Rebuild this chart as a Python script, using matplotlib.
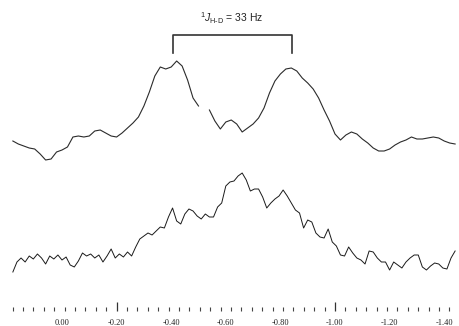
import numpy as np
import matplotlib
matplotlib.use('Agg')
import matplotlib.pyplot as plt

# chemical shift grid (ppm) starts at the left edge of the plotted window
top_start, top_step = 0.18, 0.02
bot_start, bot_step = 0.18, 0.015

# upper trace (arbitrary intensity), nan = break in the trace
top_vals = [168, 165, 163, 161, 160, 155, 149, 150, 157, 159,
            162, 172, 173, 172, 173, 178, 179, 176, 173, 172,
            176, 181, 186, 192, 203, 217, 233, 242, 240, 242,
            248, 243, 229, 211, 203, np.nan, 199, 188, 180, 187,
            189, 185, 177, 181, 185, 191, 201, 216, 228, 235,
            240, 241, 238, 231, 226, 220, 211, 199, 188, 175,
            169, 174, 177, 175, 170, 166, 161, 158, 158, 160,
            164, 167, 169, 172, 170, 170, 171, 172, 171, 168,
            166, 165]

# lower trace (arbitrary intensity)
bot_vals = [37, 47, 51, 47, 53, 50, 55, 51, 45, 53,
            50, 54, 49, 52, 44, 42, 48, 56, 53, 55,
            51, 54, 47, 53, 60, 51, 55, 52, 57, 53,
            62, 70, 73, 76, 74, 78, 82, 81, 92, 101,
            88, 85, 95, 100, 98, 93, 90, 95, 92, 92,
            102, 106, 123, 127, 128, 133, 136, 129, 118, 120,
            120, 112, 101, 106, 110, 113, 119, 113, 106, 99,
            96, 81, 89, 87, 76, 72, 71, 80, 67, 63,
            54, 53, 62, 56, 51, 49, 45, 58, 57, 51,
            47, 47, 39, 47, 44, 41, 47, 51, 54, 54,
            42, 39, 43, 46, 45, 41, 40, 51, 58]

tick_labels = ['0.00', '-0.20', '-0.40', '-0.60', '-0.80', '-1.00', '-1.20', '-1.40']
tick_pos = [0.0, -0.2, -0.4, -0.6, -0.8, -1.0, -1.2, -1.4]
long_ticks = [-0.2, -1.0]

# coupling bracket
bracket_left, bracket_right = -0.407, -0.842
bracket_top, bracket_bottom = 274, 256
coupling_label = r'$^{1}J_{\text{H-D}}$ = 33 Hz'

plt.rcParams['mathtext.fontset'] = 'custom'
plt.rcParams['mathtext.rm'] = 'Liberation Sans'
plt.rcParams['mathtext.it'] = 'Liberation Sans:italic'

top_x = top_start - top_step * np.arange(len(top_vals))
bot_x = bot_start - bot_step * np.arange(len(bot_vals))

fig = plt.figure(figsize=(4.59, 3.26), dpi=100)
ax = fig.add_axes([0, 17 / 326, 1, 309 / 326])

ax.plot(top_x, top_vals, color='#2b2b2b', linewidth=0.8)
ax.plot(bot_x, bot_vals, color='#1a1a1a', linewidth=0.7)

ax.plot([bracket_left, bracket_left, bracket_right, bracket_right],
        [bracket_bottom, bracket_top, bracket_top, bracket_bottom],
        color='#333333', linewidth=1.2)
ax.text((bracket_left + bracket_right) / 2 + 0.005, 291, coupling_label,
        ha='center', va='center', fontsize=7.5, family='Liberation Sans', color='#222222')

for side in ['top', 'right', 'left', 'bottom']:
  ax.spines[side].set_visible(False)
ax.set_yticks([])

ax.set_xticks(tick_pos)
ax.set_xticklabels(tick_labels, family='Liberation Serif', fontsize=6, color='#222222')
# small scale dots, 21 between the two long marks
ax.set_xticks(-0.2 - 0.8 / 21 * np.arange(-10, 33), minor=True)
ax.tick_params(axis='x', which='major', length=0, pad=7.5)
ax.tick_params(axis='x', which='minor', direction='inout', length=2.2, width=0.8, color='#444444')

ax.vlines(long_ticks, -0.006, 0.023, transform=ax.get_xaxis_transform(),
          color='#333333', linewidth=0.9, clip_on=False)

# pixel 0 -> +0.227 ppm, pixel 459 -> -1.454 ppm
ax.set_xlim(62 / 273, -397 / 273)
ax.set_ylim(0, 309)

fig.savefig('out.png', dpi=100)
